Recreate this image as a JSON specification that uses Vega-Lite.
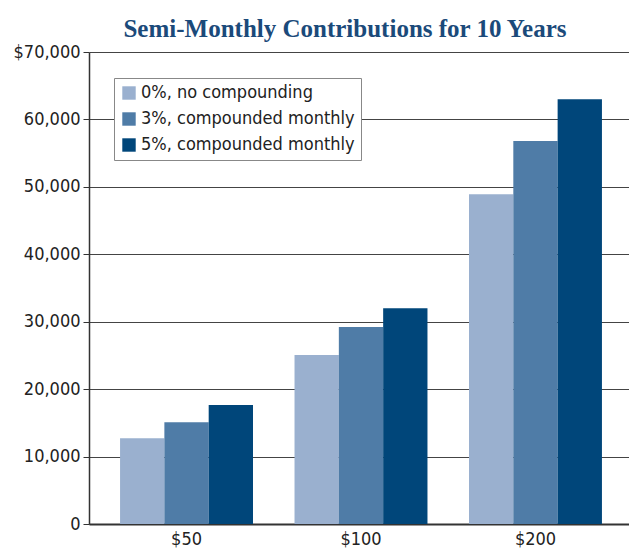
{
  "$schema": "https://vega.github.io/schema/vega-lite/v6.json",
  "autosize": "none",
  "width": 544,
  "height": 472,
  "padding": {"left": 89, "top": 52, "right": 0, "bottom": 28},
  "background": "white",
  "title": {
    "text": "Semi-Monthly Contributions for 10 Years",
    "font": "Liberation Serif",
    "fontSize": 25,
    "fontWeight": "bold",
    "color": "#1b4a7a",
    "anchor": "middle",
    "dx": -16,
    "offset": 1
  },
  "data": {
    "values": [
      {"amount": "$50", "series": "0%, no compounding", "value": 12700},
      {"amount": "$50", "series": "3%, compounded monthly", "value": 15100},
      {"amount": "$50", "series": "5%, compounded monthly", "value": 17650},
      {"amount": "$100", "series": "0%, no compounding", "value": 25050},
      {"amount": "$100", "series": "3%, compounded monthly", "value": 29200},
      {"amount": "$100", "series": "5%, compounded monthly", "value": 32000},
      {"amount": "$200", "series": "0%, no compounding", "value": 48900},
      {"amount": "$200", "series": "3%, compounded monthly", "value": 56800},
      {"amount": "$200", "series": "5%, compounded monthly", "value": 63000}
    ]
  },
  "mark": {"type": "bar"},
  "encoding": {
    "x": {
      "field": "amount",
      "type": "nominal",
      "sort": ["$50", "$100", "$200"],
      "scale": {"paddingInner": 0.238, "paddingOuter": 0.178},
      "axis": {
        "title": null,
        "labelAngle": 0,
        "labelFont": "Liberation Sans Narrow, DejaVu Sans Condensed, sans-serif",
        "labelFontSize": 18,
        "labelColor": "#222",
        "labelPadding": 6,
        "ticks": false,
        "domainColor": "#333",
        "domainWidth": 2,
        "grid": false
      }
    },
    "xOffset": {
      "field": "series",
      "type": "nominal",
      "scale": {"paddingInner": 0, "paddingOuter": 0}
    },
    "y": {
      "field": "value",
      "type": "quantitative",
      "scale": {"domain": [0, 70000], "nice": false},
      "axis": {
        "title": null,
        "values": [0, 10000, 20000, 30000, 40000, 50000, 60000, 70000],
        "labelExpr": "datum.value == 70000 ? '$70,000' : format(datum.value, ',')",
        "labelFont": "Liberation Sans Narrow, DejaVu Sans Condensed, sans-serif",
        "labelFontSize": 18,
        "labelColor": "#222",
        "labelPadding": 3,
        "tickSize": 6,
        "tickColor": "#333",
        "domainColor": "#333",
        "domainWidth": 1.5,
        "grid": true,
        "gridColor": "#444",
        "gridWidth": 1.2,
        "gridOpacity": 1
      }
    },
    "color": {
      "field": "series",
      "type": "nominal",
      "scale": {
        "domain": ["0%, no compounding", "3%, compounded monthly", "5%, compounded monthly"],
        "range": ["#9ab0cf", "#4f7ca7", "#00467a"]
      },
      "legend": {
        "title": null,
        "orient": "none",
        "legendX": 25,
        "legendY": 26,
        "fillColor": "white",
        "strokeColor": "#888",
        "padding": 6,
        "symbolType": "square",
        "symbolSize": 180,
        "symbolStrokeWidth": 0,
        "labelFont": "Liberation Sans Narrow, DejaVu Sans Condensed, sans-serif",
        "labelFontSize": 18,
        "labelColor": "#222",
        "labelLimit": 400,
        "rowPadding": 8,
        "labelOffset": 3
      }
    }
  },
  "config": {
    "view": {"stroke": null}
  }
}
